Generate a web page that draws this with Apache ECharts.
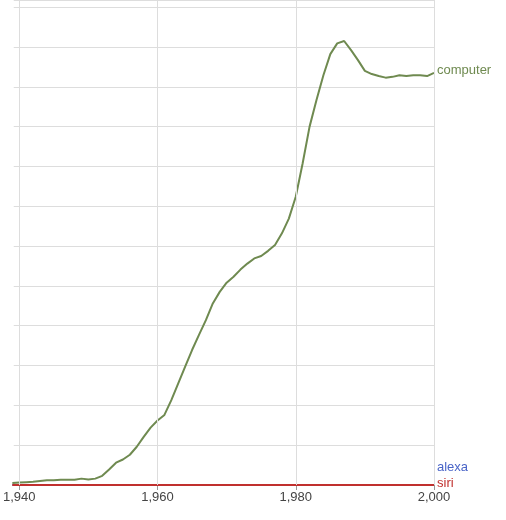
<!DOCTYPE html>
<html>
<head>
<meta charset="utf-8">
<script src="https://cdn.jsdelivr.net/npm/echarts@6/dist/echarts.min.js"></script>
<style>html,body{margin:0;padding:0;background:#fff}#chart{width:506px;height:520px}</style>
</head>
<body>
<div id="chart"></div>
<script>
const years = [];
for (let y = 1939; y <= 2000; y++) years.push(y);
const computer = [0.05, 0.06, 0.07, 0.08, 0.10, 0.12, 0.12, 0.13, 0.13, 0.13, 0.16, 0.14, 0.16, 0.23, 0.39,
  0.56, 0.64, 0.76, 0.96, 1.21, 1.44, 1.62, 1.76, 2.13, 2.55, 2.97, 3.39, 3.77, 4.14, 4.56, 4.85,
  5.08, 5.23, 5.41, 5.56, 5.69, 5.75, 5.88, 6.03, 6.32, 6.69, 7.24, 8.08, 9.0, 9.67, 10.29, 10.82,
  11.09, 11.15, 10.92, 10.67, 10.40, 10.32, 10.27, 10.23, 10.25, 10.29, 10.27, 10.29, 10.29, 10.27, 10.35];
const alexa = years.map(() => 0);
const siri = years.map(() => 0);
const xTicks = [1940, 1960, 1980, 2000];

const chart = echarts.init(document.getElementById('chart'));
function line(name, vals, color, offY) {
  return {
    name: name, type: 'line', showSymbol: false, smooth: false,
    data: years.map((y, i) => [y, vals[i]]),
    lineStyle: {color: color, width: 2}, itemStyle: {color: color},
    endLabel: {show: true, formatter: name, color: color, fontFamily: 'Liberation Sans', fontSize: 13,
      distance: 3, offset: [0, offY]}
  };
}
const computerSeries = line('computer', computer, '#6f8a50', -2);
computerSeries.markLine = {
  silent: true, symbol: 'none', label: {show: false},
  lineStyle: {color: '#ddd', width: 1, type: 'solid'},
  data: xTicks.map(v => ({xAxis: v}))
};
chart.setOption({
  animation: false,
  grid: {left: 0, right: 72, top: 0, bottom: 35, containLabel: false},
  xAxis: {
    type: 'value', min: 1939.2, max: 2000,
    axisLine: {show: false},
    axisTick: {show: true, length: 5, lineStyle: {color: '#999'}, customValues: xTicks},
    axisLabel: {color: '#444', fontFamily: 'Liberation Sans', fontSize: 13, margin: 6, customValues: xTicks,
      showMinLabel: true, showMaxLabel: true},
    splitLine: {show: false}
  },
  yAxis: {
    type: 'value', min: 0, max: 12.18, interval: 1,
    axisLine: {show: false}, axisTick: {show: false}, axisLabel: {show: false},
    splitLine: {show: true, lineStyle: {color: '#ddd', width: 1}}
  },
  series: [
    computerSeries,
    line('alexa', alexa, '#4a65c8', -18),
    line('siri', siri, '#c0302e', -2)
  ]
});
</script>
</body>
</html>
